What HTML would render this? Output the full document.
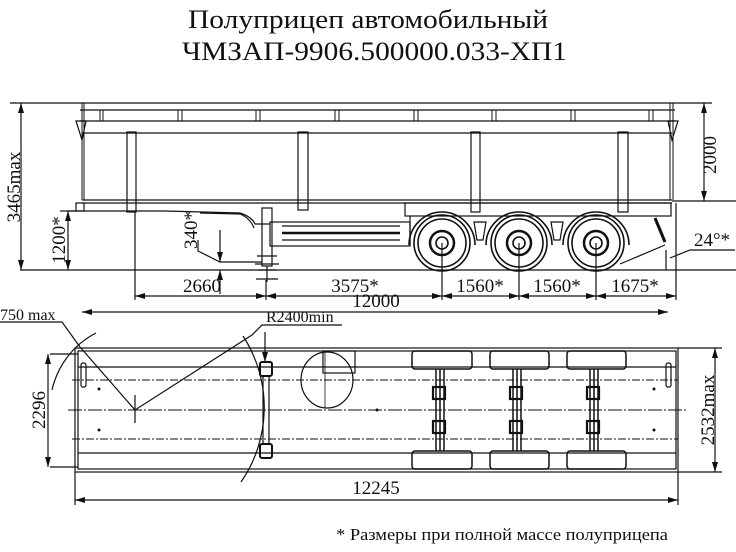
<!DOCTYPE html>
<html><head><meta charset="utf-8"><style>
html,body{margin:0;padding:0;background:#fff}
svg{display:block}
text{font-family:"Liberation Serif","Noto Serif CJK SC",serif;fill:#111}
</style></head><body>
<svg width="736" height="552" viewBox="0 0 736 552" xmlns="http://www.w3.org/2000/svg">
<defs>
<marker id="a" markerWidth="10" markerHeight="6" refX="10" refY="3" orient="auto-start-reverse" markerUnits="userSpaceOnUse"><path d="M0,0 L10,3 L0,6 z" fill="#111"/></marker>
</defs>
<text x="188" y="28" font-size="26" textLength="360" lengthAdjust="spacingAndGlyphs">Полуприцеп автомобильный</text>
<text x="182" y="60" font-size="26" textLength="385" lengthAdjust="spacingAndGlyphs">ЧМЗАП-9906.500000.033-ХП1</text>

<g stroke="#111" fill="none" stroke-width="1.2">
<line x1="78" y1="103" x2="676" y2="103"/>
<line x1="80" y1="110" x2="675" y2="110"/>
<line x1="80" y1="121" x2="675" y2="121"/>
<line x1="82" y1="133" x2="672" y2="133"/>
<g stroke-width="1">
<line x1="82" y1="103" x2="82" y2="200"/><line x1="84" y1="103" x2="84" y2="200"/>
<line x1="100" y1="110" x2="100" y2="121"/><line x1="103" y1="110" x2="103" y2="121"/>
<line x1="178" y1="110" x2="178" y2="121"/><line x1="182" y1="110" x2="182" y2="121"/>
<line x1="256" y1="110" x2="256" y2="121"/><line x1="260" y1="110" x2="260" y2="121"/>
<line x1="335" y1="110" x2="335" y2="121"/><line x1="339" y1="110" x2="339" y2="121"/>
<line x1="414" y1="110" x2="414" y2="121"/><line x1="418" y1="110" x2="418" y2="121"/>
<line x1="492" y1="110" x2="492" y2="121"/><line x1="496" y1="110" x2="496" y2="121"/>
<line x1="571" y1="110" x2="571" y2="121"/><line x1="575" y1="110" x2="575" y2="121"/>
<line x1="649" y1="110" x2="649" y2="121"/><line x1="653" y1="110" x2="653" y2="121"/>
<line x1="670" y1="103" x2="670" y2="200"/><line x1="673" y1="103" x2="673" y2="200"/>
</g>
<path d="M76,121 L86,121 L82,140 Z"/>
<path d="M678,121 L668,121 L672,140 Z"/>
<line x1="82" y1="200" x2="672" y2="200"/>
<line x1="82" y1="203" x2="672" y2="203"/>
<rect x="127" y="132" width="9" height="80"/>
<rect x="298" y="132" width="10" height="78"/>
<rect x="471" y="132" width="9" height="80"/>
<rect x="618" y="132" width="10" height="80"/>
<path d="M68,211 L165,211 L240,213 Q252,217 255,224 L270,224"/>
<path d="M200,213 L240,214 Q250,218 254,228"/>
<rect x="76" y="203" width="8" height="8"/>
<rect x="270" y="222" width="140" height="24"/>
<line x1="282" y1="226" x2="400" y2="226"/>
<line x1="282" y1="233" x2="400" y2="233" stroke-width="2.5"/>
<line x1="282" y1="240" x2="400" y2="240"/>
<rect x="405" y="203" width="266" height="13"/>
<line x1="410" y1="216" x2="410" y2="246"/>
<rect x="262" y="208" width="10" height="58"/>
<path d="M257,256 L277,256 M255,264 L279,264 M258,270 L276,270 M256,279 L278,279 M267,266 L267,282"/>
<g stroke-width="1.6">
<path d="M409,245 A33,33 0 0 1 475,245" />
<path d="M486,245 A33,33 0 0 1 552,245" />
<path d="M563,245 A33,33 0 0 1 629,245" />
<circle cx="442" cy="243" r="28"/><circle cx="442" cy="243" r="24"/><circle cx="442" cy="243" r="12" stroke-width="2.5"/><circle cx="442" cy="243" r="6"/>
<circle cx="519" cy="243" r="28"/><circle cx="519" cy="243" r="24"/><circle cx="519" cy="243" r="12" stroke-width="2.5"/><circle cx="519" cy="243" r="6"/>
<circle cx="596" cy="243" r="28"/><circle cx="596" cy="243" r="24"/><circle cx="596" cy="243" r="12" stroke-width="2.5"/><circle cx="596" cy="243" r="6"/>
</g>
<path d="M474,222 L486,222 L483,240 L477,240 Z M551,222 L563,222 L560,240 L554,240 Z"/>
<path d="M655,218 L665,242" stroke-width="3"/>
<line x1="20" y1="270" x2="736" y2="270"/>
<line x1="672" y1="201" x2="736" y2="201"/>
<line x1="10" y1="103" x2="78" y2="103"/>
<line x1="21" y1="103" x2="21" y2="270" marker-start="url(#a)" marker-end="url(#a)"/>
<line x1="60" y1="211" x2="76" y2="211"/>
<line x1="68" y1="211" x2="68" y2="270" marker-start="url(#a)" marker-end="url(#a)"/>
<line x1="676" y1="103" x2="712" y2="103"/>
<line x1="704" y1="103" x2="704" y2="201" marker-start="url(#a)" marker-end="url(#a)"/>
<path d="M198,240 L198,251 L220,262 L262,262"/>
<line x1="220" y1="230" x2="220" y2="262" marker-end="url(#a)"/>
<line x1="220" y1="294" x2="220" y2="270" marker-end="url(#a)"/>
<line x1="135" y1="212" x2="135" y2="300"/>
<line x1="266" y1="280" x2="266" y2="300"/>
<line x1="442" y1="243" x2="442" y2="300"/>
<line x1="519" y1="243" x2="519" y2="300"/>
<line x1="596" y1="243" x2="596" y2="300"/>
<line x1="676" y1="203" x2="676" y2="300"/>
<line x1="135" y1="296" x2="266" y2="296" marker-start="url(#a)" marker-end="url(#a)"/>
<line x1="266" y1="296" x2="442" y2="296" marker-start="url(#a)" marker-end="url(#a)"/>
<line x1="442" y1="296" x2="519" y2="296" marker-start="url(#a)" marker-end="url(#a)"/>
<line x1="519" y1="296" x2="596" y2="296" marker-start="url(#a)" marker-end="url(#a)"/>
<line x1="596" y1="296" x2="676" y2="296" marker-start="url(#a)" marker-end="url(#a)"/>
<path d="M620,264 L665,245 M666,250 L666,270 M670,258 L690,250 L735,250"/>
<line x1="82" y1="312" x2="668" y2="312" marker-start="url(#a)" marker-end="url(#a)"/>

<rect x="75" y="348" width="603" height="124"/>
<rect x="78" y="351" width="598" height="118"/>
<line x1="78" y1="367" x2="676" y2="367"/>
<line x1="78" y1="453" x2="676" y2="453"/>
<line x1="72" y1="380" x2="678" y2="380" stroke-dasharray="8,2,2,2" stroke-width="1"/>
<line x1="72" y1="439" x2="678" y2="439" stroke-dasharray="8,2,2,2" stroke-width="1"/>
<line x1="68" y1="410" x2="688" y2="410" stroke-dasharray="14,2,2,2" stroke-width="1"/>
<rect x="81" y="363" width="5" height="24" rx="2"/>
<rect x="666" y="363" width="5" height="24" rx="2"/>
<line x1="50" y1="354" x2="78" y2="354"/><line x1="50" y1="467" x2="78" y2="467"/>
<line x1="48" y1="354" x2="48" y2="467" marker-start="url(#a)" marker-end="url(#a)"/>
<line x1="678" y1="348" x2="722" y2="348"/><line x1="678" y1="472" x2="722" y2="472"/>
<line x1="715" y1="348" x2="715" y2="472" marker-start="url(#a)" marker-end="url(#a)"/>
<line x1="75" y1="472" x2="75" y2="505"/><line x1="678" y1="472" x2="678" y2="505"/>
<line x1="75" y1="500" x2="678" y2="500" marker-start="url(#a)" marker-end="url(#a)"/>
<path d="M52,390 A85,85 0 0 1 96,333"/>
<path d="M243,336 A131,131 0 0 1 241,482"/>
<path d="M135,395 L135,423"/>
<path d="M62,322 L0,322 M62,322 L80,347"/>
<path d="M80,347 L135,410 L252,335 L262,325 L342,325"/>
<line x1="265" y1="332" x2="265" y2="362" marker-end="url(#a)"/>
<rect x="260" y="362" width="12" height="14" rx="2" stroke-width="2"/>
<rect x="260" y="444" width="12" height="14" rx="2" stroke-width="2"/>
<line x1="263" y1="376" x2="263" y2="444"/><line x1="269" y1="376" x2="269" y2="444"/>
<ellipse cx="327" cy="380" rx="26" ry="28"/>
<rect x="323" y="351" width="32" height="22"/>
<line x1="325" y1="352" x2="325" y2="408" stroke-width="0.8"/>
<g stroke-width="1.5">
<rect x="412" y="351" width="60" height="18" rx="3"/><rect x="412" y="451" width="60" height="18" rx="3"/>
<rect x="490" y="351" width="59" height="18" rx="3"/><rect x="490" y="451" width="59" height="18" rx="3"/>
<rect x="567" y="351" width="59" height="18" rx="3"/><rect x="567" y="451" width="59" height="18" rx="3"/>
<path d="M436,369 V451 M440,369 V451 M444,369 V451"/>
<path d="M513,369 V451 M517,369 V451 M521,369 V451"/>
<path d="M590,369 V451 M594,369 V451 M598,369 V451"/>
<rect x="433" y="387" width="12" height="12" stroke-width="2.2"/><rect x="433" y="421" width="12" height="12" stroke-width="2.2"/>
<rect x="510" y="387" width="12" height="12" stroke-width="2.2"/><rect x="510" y="421" width="12" height="12" stroke-width="2.2"/>
<rect x="587" y="387" width="12" height="12" stroke-width="2.2"/><rect x="587" y="421" width="12" height="12" stroke-width="2.2"/>
</g>
</g>
<g fill="#111">
<circle cx="99" cy="389" r="1.5"/><circle cx="99" cy="430" r="1.5"/>
<circle cx="377" cy="410" r="1.5"/><circle cx="654" cy="389" r="1.5"/><circle cx="654" cy="430" r="1.5"/>
</g>

<g font-size="19">
<text transform="translate(20,187) rotate(-90)" text-anchor="middle">3465max</text>
<text transform="translate(65,240) rotate(-90)" text-anchor="middle">1200*</text>
<text transform="translate(197,230) rotate(-90)" text-anchor="middle">340*</text>
<text transform="translate(716,155) rotate(-90)" text-anchor="middle">2000</text>
<text x="202" y="292" text-anchor="middle">2660</text>
<text x="355" y="292" text-anchor="middle">3575*</text>
<text x="480" y="292" text-anchor="middle">1560*</text>
<text x="557" y="292" text-anchor="middle">1560*</text>
<text x="635" y="292" text-anchor="middle">1675*</text>
<text x="712" y="246" text-anchor="middle">24°*</text>
<text x="376" y="307" text-anchor="middle">12000</text>
<text x="0" y="320" font-size="16">750 max</text>
<text x="266" y="322" font-size="16">R2400min</text>
<text transform="translate(45,410) rotate(-90)" text-anchor="middle">2296</text>
<text transform="translate(714,410) rotate(-90)" text-anchor="middle">2532max</text>
<text x="376" y="494" text-anchor="middle">12245</text>
<text x="336" y="540" font-size="17" textLength="332" lengthAdjust="spacingAndGlyphs">* Размеры при полной массе полуприцепа</text>
</g>
</svg>
</body></html>
